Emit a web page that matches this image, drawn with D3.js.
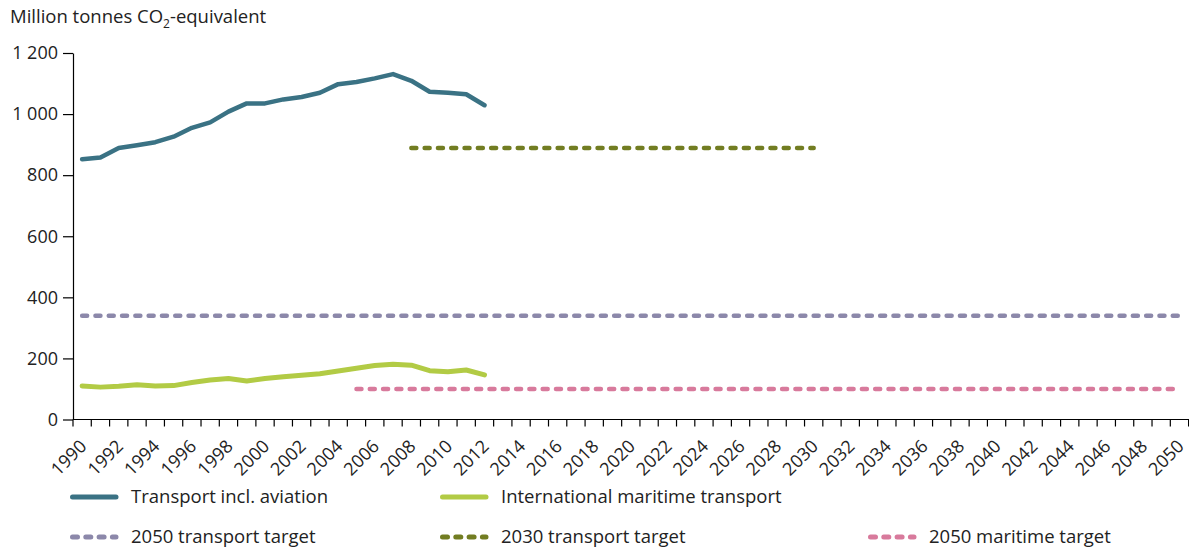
<!DOCTYPE html>
<html>
<head>
<meta charset="utf-8">
<script src="https://cdn.jsdelivr.net/npm/d3@7"></script>
<style>
  html, body { margin: 0; padding: 0; background: #fff; }
  svg { display: block; font-family: "Open Sans", "Noto Sans", sans-serif; }
</style>
</head>
<body>
<svg id="chart" width="1189" height="551"></svg>
<script>
// ---- data ----
const years = d3.range(1990, 2051);
const historyYears = d3.range(1990, 2013);
const transportInclAviation = [852, 858, 889, 898, 908, 926, 955, 973, 1008, 1035, 1035, 1048, 1056, 1070, 1098, 1105, 1117, 1131, 1109, 1073, 1070, 1065, 1029];
const internationalMaritime = [110, 106, 109, 114, 110, 111, 121, 129, 134, 126, 134, 140, 145, 150, 159, 168, 177, 181, 178, 160, 156, 162, 146];
const target2050TransportYears = [1990, 2050];
const target2050TransportValue = 340;
const target2030TransportYears = [2008, 2030];
const target2030TransportValue = 889;
const target2050MaritimeYears = [2005, 2050];
const target2050MaritimeValue = 100;
const yTicks = [0, 200, 400, 600, 800, 1000, 1200];
const xTickLabels = years.filter(y => y % 2 === 0);
const legendLabels = ["Transport incl. aviation", "International maritime transport", "2050 transport target", "2030 transport target", "2050 maritime target"];

// ---- styles ----
const C = {
  transport: "#3a7284",
  maritime: "#b2cb45",
  t2050: "#8c88aa",
  t2030: "#727d22",
  m2050: "#d87a9c",
  text: "#222"
};

const svg = d3.select("#chart");
const x = d3.scaleBand().domain(years).range([73, 1188.6]).paddingInner(0).paddingOuter(0);
const y = d3.scaleLinear().domain([0, 1200]).range([419.5, 53]);
const cx = yr => x(yr) + x.bandwidth() / 2;

// title
const title = svg.append("text").attr("x", 10).attr("y", 23)
  .attr("font-size", 18.5).attr("fill", C.text);
title.append("tspan").text("Million tonnes CO");
title.append("tspan").text("2").attr("font-size", 12).attr("dy", 5);
title.append("tspan").text("-equivalent").attr("dy", -5);

// y axis
const yAxis = svg.append("g").attr("transform", "translate(73,0)")
  .call(d3.axisLeft(y).tickValues(yTicks).tickSize(10).tickSizeOuter(0).tickPadding(5)
    .tickFormat(d => d3.format(",")(d).replace(/,/g, " ")));
yAxis.select(".domain").attr("stroke", "#000").attr("stroke-width", 1.2);
yAxis.selectAll(".tick line").attr("stroke", "#000").attr("stroke-width", 1.2);
yAxis.selectAll(".tick text").attr("font-size", 18).attr("fill", C.text)
  .attr("font-family", "'Open Sans', 'Noto Sans', sans-serif");

// x axis (ticks at band boundaries)
const xAxisG = svg.append("g").attr("transform", `translate(0,${y(0)})`);
xAxisG.append("line").attr("x1", 73).attr("x2", 1189).attr("y1", 0).attr("y2", 0)
  .attr("stroke", "#000").attr("stroke-width", 1.2);
xAxisG.selectAll("line.tk").data(years.concat([2051])).join("line").attr("class", "tk")
  .attr("x1", d => d === 2051 ? x(2050) + x.bandwidth() : x(d))
  .attr("x2", d => d === 2051 ? x(2050) + x.bandwidth() : x(d))
  .attr("y1", 0).attr("y2", 7).attr("stroke", "#000").attr("stroke-width", 1.2);
xAxisG.selectAll("text").data(xTickLabels).join("text")
  .attr("transform", d => `translate(${cx(d) - 3.5},${19}) rotate(-45)`)
  .attr("text-anchor", "end").attr("dy", "0.71em")
  .attr("font-size", 18).attr("fill", C.text)
  .text(d => d);

// targets
function hline(yrs, val, color, dash) {
  svg.append("line")
    .attr("x1", cx(yrs[0])).attr("x2", cx(yrs[1]))
    .attr("y1", y(val)).attr("y2", y(val))
    .attr("stroke", color).attr("stroke-width", 4.5)
    .attr("stroke-linecap", "round").attr("stroke-dasharray", dash);
}
hline(target2050TransportYears, target2050TransportValue, C.t2050, "5 8.3");
hline(target2030TransportYears, target2030TransportValue, C.t2030, "5 8.3");
hline(target2050MaritimeYears, target2050MaritimeValue, C.m2050, "5 8.3");

// series
const line = d3.line().x((d, i) => cx(historyYears[i])).y(d => y(d));
svg.append("path").datum(transportInclAviation).attr("d", line)
  .attr("fill", "none").attr("stroke", C.transport).attr("stroke-width", 4.5)
  .attr("stroke-linejoin", "round").attr("stroke-linecap", "round");
svg.append("path").datum(internationalMaritime).attr("d", line)
  .attr("fill", "none").attr("stroke", C.maritime).attr("stroke-width", 5)
  .attr("stroke-linejoin", "round").attr("stroke-linecap", "round");

// legend
const legendItems = [
  { label: legendLabels[0], color: C.transport, dash: null, x: 70, y: 497 },
  { label: legendLabels[1], color: C.maritime, dash: null, x: 440, y: 497 },
  { label: legendLabels[2], color: C.t2050, dash: "5 8.3", x: 70, y: 537 },
  { label: legendLabels[3], color: C.t2030, dash: "5 8.3", x: 440, y: 537 },
  { label: legendLabels[4], color: C.m2050, dash: "5 8.3", x: 868, y: 537 }
];
const lg = svg.selectAll("g.legend").data(legendItems).join("g").attr("class", "legend")
  .attr("transform", d => `translate(${d.x},${d.y})`);
lg.append("line").attr("x1", 2.5).attr("x2", 46).attr("y1", 0).attr("y2", 0)
  .attr("stroke", d => d.color).attr("stroke-width", 5).attr("stroke-linecap", "round")
  .attr("stroke-dasharray", d => d.dash);
lg.append("text").attr("x", 61).attr("y", 0).attr("dy", "0.35em")
  .attr("font-size", 18.5).attr("fill", C.text).text(d => d.label);
</script>
</body>
</html>
